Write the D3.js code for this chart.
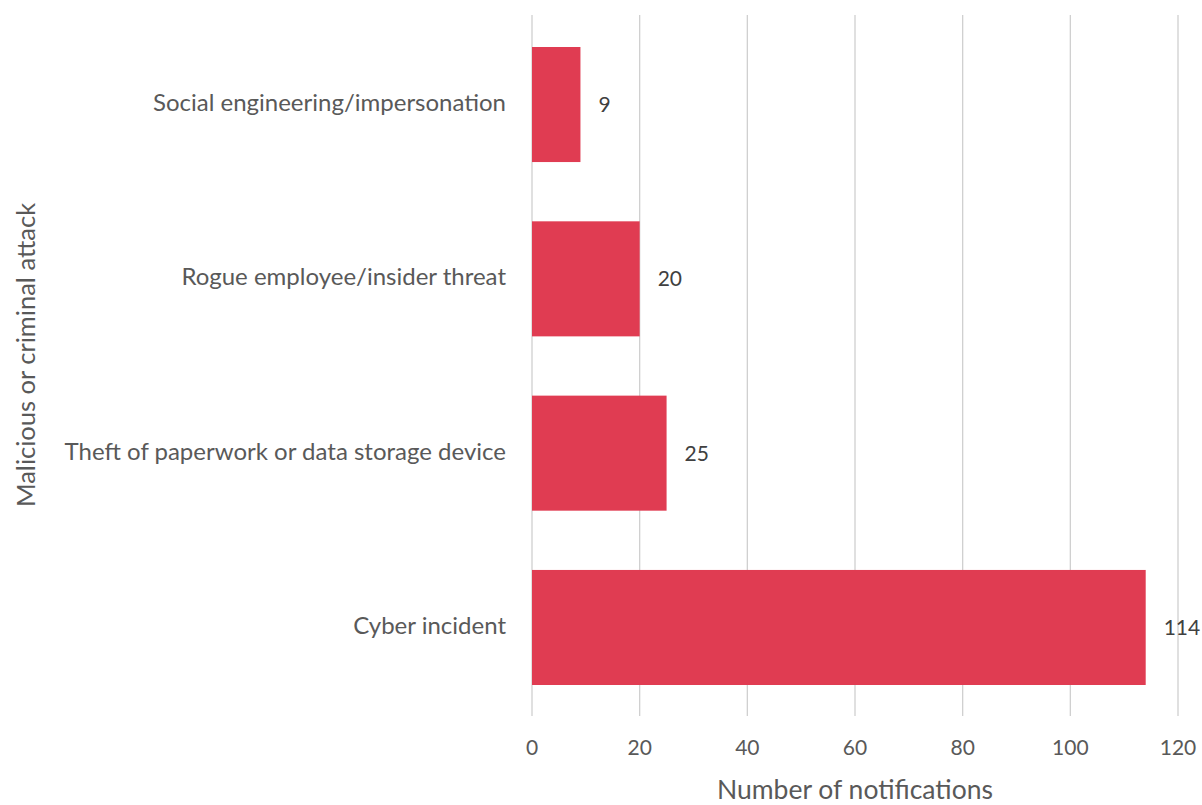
<!DOCTYPE html>
<html><head><meta charset="utf-8">
<script src="https://cdn.jsdelivr.net/npm/d3@7"></script>
<style>body{margin:0;background:#fff;}svg{display:block;font-family:Lato,"Open Sans",sans-serif;}</style>
</head><body><svg id="c" width="1202" height="805"></svg>
<script>
const categories = ["Social engineering/impersonation","Rogue employee/insider threat","Theft of paperwork or data storage device","Cyber incident"];
const values = [9,20,25,114];
const ticks = [0,20,40,60,80,100,120];
const xTitle = "Number of notifications";
const yTitle = "Malicious or criminal attack";

const svg = d3.select("#c");
const x = d3.scaleLinear().domain([0,120]).range([532,1178]);
const y = d3.scaleBand().domain(categories).range([15,717]).paddingInner(0.34).paddingOuter(0.1836);

svg.append("g").selectAll("line").data(ticks).join("line")
  .attr("x1",d=>x(d)).attr("x2",d=>x(d)).attr("y1",15).attr("y2",716)
  .attr("stroke","#d0d0d0").attr("stroke-width",1.3);

svg.append("g").selectAll("rect").data(values).join("rect")
  .attr("x",x(0)).attr("y",(d,i)=>y(categories[i])).attr("width",d=>x(d)-x(0)).attr("height",y.bandwidth())
  .attr("fill","#e03c52");

svg.append("g").selectAll("text").data(values).join("text")
  .attr("x",d=>x(d)+18).attr("y",(d,i)=>y(categories[i])+y.bandwidth()/2).attr("dy","0.35em")
  .attr("font-size",21).attr("fill","#404040").text(d=>d);

svg.append("g").selectAll("text").data(categories).join("text")
  .attr("x",506).attr("y",d=>y(d)+y.bandwidth()/2-2).attr("dy","0.35em").attr("text-anchor","end")
  .attr("font-size",24).attr("fill","#595959").text(d=>d);

svg.append("g").selectAll("text").data(ticks).join("text")
  .attr("x",d=>x(d)).attr("y",748).attr("dy","0.35em").attr("text-anchor","middle")
  .attr("font-size",21).attr("fill","#595959").text(d=>d);

svg.append("text").attr("x",855).attr("y",790).attr("dy","0.35em").attr("text-anchor","middle")
  .attr("font-size",26.5).attr("fill","#595959").text(xTitle);

svg.append("text").attr("transform","translate(26,355) rotate(-90)").attr("dy","0.35em").attr("text-anchor","middle")
  .attr("font-size",25.5).attr("fill","#595959").text(yTitle);
</script></body></html>
